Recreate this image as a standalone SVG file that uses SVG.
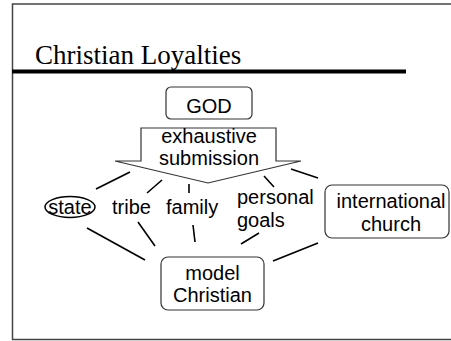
<svg xmlns="http://www.w3.org/2000/svg" width="451" height="341" viewBox="0 0 451 341">
  <style>
    .lbl { font-family: "Liberation Sans", Arial, sans-serif; font-size: 20px; fill: #000; }
    .mid { text-anchor: middle; }
    .box { fill: #fff; stroke: #333; stroke-width: 1.2; }
    .link { stroke: #000; stroke-width: 1.6; fill: none; }
  </style>
  <rect width="451" height="341" fill="#fff"/>
  <!-- slide frame (right edge runs off the page) -->
  <path d="M460 4 H12.5 V339.5 H460" fill="none" stroke="#444" stroke-width="1.5"/>
  <!-- title -->
  <text x="35" y="64" font-family="'Liberation Serif', 'Times New Roman', serif" font-size="27">Christian Loyalties</text>
  <line x1="12" y1="71.5" x2="406" y2="71.5" stroke="#000" stroke-width="4"/>

  <g id="connectors">
    <line class="link" x1="96" y1="189" x2="130" y2="172"/>
    <line class="link" x1="147" y1="193" x2="162" y2="180"/>
    <line class="link" x1="189" y1="184" x2="189" y2="193"/>
    <line class="link" x1="264" y1="176" x2="274" y2="187"/>
    <line class="link" x1="291" y1="169" x2="318" y2="178"/>
    <line class="link" x1="87" y1="228" x2="145" y2="260"/>
    <line class="link" x1="138" y1="222" x2="155" y2="246"/>
    <line class="link" x1="193" y1="225" x2="195" y2="242"/>
    <line class="link" x1="259" y1="233" x2="241" y2="244"/>
    <line class="link" x1="318" y1="243" x2="273" y2="261"/>
  </g>

  <g id="god">
    <rect class="box" x="166" y="87" width="86" height="32" rx="5"/>
    <text class="lbl mid" x="209" y="112.5" font-size="21">GOD</text>
  </g>

  <g id="submission">
    <polygon points="141,128 276,128 276,161 301,161 208,183 115,161 141,161" fill="#fff" stroke="#333" stroke-width="1.2"/>
    <text class="lbl mid" x="209" y="143">exhaustive</text>
    <text class="lbl mid" x="209" y="165">submission</text>
  </g>

  <g id="state">
    <ellipse cx="70" cy="207" rx="25" ry="10.5" fill="none" stroke="#000" stroke-width="1.5"/>
    <text class="lbl mid" x="70" y="214">state</text>
  </g>

  <g id="tribe">
    <text class="lbl" x="112" y="214">tribe</text>
  </g>

  <g id="family">
    <text class="lbl" x="166" y="214">family</text>
  </g>

  <g id="personal-goals">
    <text class="lbl" x="237" y="204">personal</text>
    <text class="lbl" x="237" y="227">goals</text>
  </g>

  <g id="international-church">
    <rect class="box" x="325" y="185" width="124" height="53" rx="7"/>
    <text class="lbl mid" x="391" y="208">international</text>
    <text class="lbl mid" x="391" y="231">church</text>
  </g>

  <g id="model-christian">
    <rect class="box" x="161" y="257" width="103" height="53" rx="7"/>
    <text class="lbl mid" x="212.5" y="280">model</text>
    <text class="lbl mid" x="212.5" y="302">Christian</text>
  </g>
</svg>
